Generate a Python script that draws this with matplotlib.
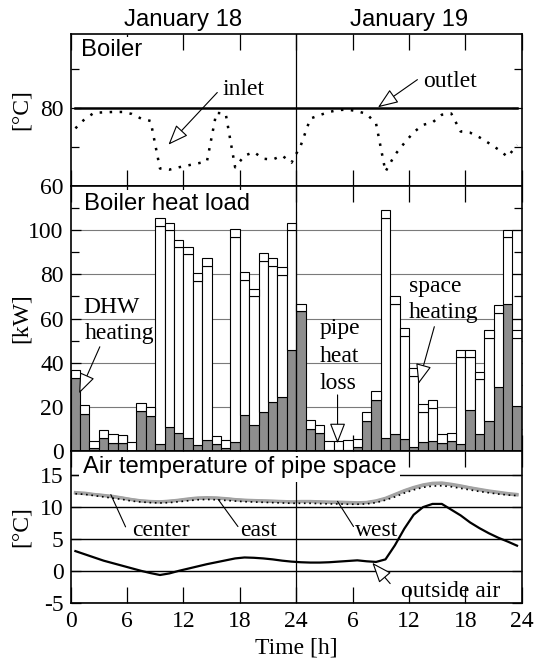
import matplotlib.pyplot as plt
import numpy as np
from matplotlib import transforms

SERIF = 'Liberation Serif'
SANS = 'Liberation Sans'
FS = 17        # serif text (ticks, labels, notes)
FS_SANS = 17.2  # panel titles and dates

# ---- data (hourly, Jan 18 0h .. Jan 19 24h) ----
hours = np.arange(48)
t_mid = hours + 0.5

# boiler temperatures [C]
inlet = [74.8, 77.2, 78.8, 78.9, 79.0, 79.0, 78.5, 77.3, 76.7, 64.5,
         64.2, 64.8, 65.3, 65.8, 66.3, 78.8, 78.5, 64.8, 67.8, 68.7,
         67.0, 66.8, 67.8, 66.0, 70.5, 77.3, 78.2, 79.0, 79.5, 79.6,
         79.2, 78.5, 76.0, 63.7, 68.0, 71.0, 73.8, 75.7, 76.3, 78.3,
         78.6, 74.0, 73.7, 72.5, 71.0, 69.4, 67.5, 70.5]
outlet = [80.0] * 48

# boiler heat load [kW]
dhw = [33.0, 16.8, 1.2, 5.8, 3.7, 3.7, 0.0, 18.0, 16.0, 3.3,
       11.0, 8.0, 6.0, 2.5, 5.0, 3.3, 1.5, 4.0, 16.5, 12.0,
       17.5, 22.0, 24.4, 45.7, 63.4, 10.0, 8.2, 0.5, 0.3, 0.5,
       1.8, 13.8, 23.2, 5.7, 7.5, 5.5, 2.0, 4.0, 4.5, 3.7,
       4.5, 3.0, 18.4, 7.5, 13.5, 29.0, 66.7, 20.5]
space = [0.0, 0.0, 0.0, 0.0, 0.0, 0.0, 0.0, 0.0, 0.0, 98.7,
         89.0, 84.2, 83.2, 74.5, 79.0, 0.0, 0.0, 93.0, 60.9, 58.0,
         68.5, 61.7, 55.1, 54.3, 0.0, 0.0, 0.0, 0.0, 0.0, 0.0,
         0.0, 0.0, 0.0, 100.0, 58.9, 46.5, 32.0, 13.8, 15.0, 0.0,
         0.0, 39.4, 24.0, 25.0, 37.9, 33.5, 30.0, 30.7]
pipe_loss = [3.7, 4.0, 3.3, 3.9, 3.8, 3.6, 4.0, 3.7, 4.0, 3.7,
             3.4, 3.5, 3.3, 3.5, 3.4, 3.7, 3.5, 3.4, 3.6, 3.5,
             3.5, 3.6, 3.7, 3.4, 3.3, 4.0, 3.8, 4.0, 4.2, 4.3,
             3.6, 3.7, 3.8, 3.3, 3.6, 3.5, 3.5, 3.6, 3.7, 3.8,
             3.7, 3.3, 3.3, 3.5, 3.6, 3.5, 3.3, 3.8]

# air temperature of pipe space [C]
east = [12.3, 12.2, 12.0, 11.85, 11.7, 11.45, 11.2, 11.0, 10.9, 10.85,
        10.95, 11.1, 11.3, 11.45, 11.5, 11.45, 11.35, 11.2, 11.1, 11.05,
        11.0, 10.95, 10.9, 10.85, 10.9, 10.9, 10.85, 10.8, 10.8, 10.75,
        10.7, 10.75, 11.0, 11.4, 12.0, 12.6, 13.1, 13.5, 13.75, 13.8,
        13.6, 13.35, 13.05, 12.8, 12.55, 12.35, 12.15, 12.0]
west = [12.2, 12.1, 11.95, 11.8, 11.6, 11.4, 11.15, 10.95, 10.85, 10.8,
        10.9, 11.05, 11.2, 11.35, 11.4, 11.4, 11.3, 11.15, 11.05, 11.0,
        10.95, 10.9, 10.85, 10.8, 10.85, 10.85, 10.8, 10.75, 10.7, 10.65,
        10.6, 10.7, 10.9, 11.3, 11.9, 12.5, 13.0, 13.4, 13.65, 13.7,
        13.5, 13.25, 13.0, 12.7, 12.45, 12.25, 12.05, 11.9]
center = [12.1, 12.0, 11.8, 11.6, 11.4, 11.2, 10.95, 10.8, 10.7, 10.65,
          10.7, 10.85, 11.0, 11.15, 11.2, 11.15, 11.05, 10.95, 10.85, 10.8,
          10.75, 10.7, 10.65, 10.6, 10.6, 10.6, 10.55, 10.5, 10.5, 10.45,
          10.45, 10.5, 10.7, 11.1, 11.6, 12.2, 12.7, 13.1, 13.3, 13.35,
          13.2, 12.95, 12.7, 12.45, 12.25, 12.05, 11.9, 11.8]
outside = [3.1, 2.6, 2.1, 1.6, 1.2, 0.8, 0.4, 0.0, -0.35, -0.65,
           -0.4, 0.0, 0.35, 0.7, 1.05, 1.35, 1.65, 1.95, 2.1, 2.05,
           1.95, 1.8, 1.6, 1.45, 1.35, 1.3, 1.3, 1.35, 1.45, 1.55,
           1.65, 1.5, 1.4, 1.8, 4.0, 6.6, 8.8, 10.0, 10.5, 10.5,
           9.6, 8.7, 7.6, 6.7, 5.9, 5.2, 4.6, 3.95]

xticks = [0, 6, 12, 18, 24, 30, 36, 42, 48]
xticklabels = ['0', '6', '12', '18', '24', '6', '12', '18', '24']
days = ['January 18', 'January 19']
day_centers = [12, 36]

# ---- figure ----
fig = plt.figure(figsize=(5.34, 6.66), dpi=100)
L, R = 0.1324, 0.9770
ax1 = fig.add_axes([L, 0.7207, R - L, 0.9489 - 0.7207])
ax2 = fig.add_axes([L, 0.3228, R - L, 0.7207 - 0.3228])
ax3 = fig.add_axes([L, 0.0950, R - L, 0.3228 - 0.0950])
ax_w = (R - L) * 534
ylab_x = (32 - 70.7) / ax_w   # right edge of the rotated y labels

for ax in (ax1, ax2, ax3):
    ax.set_xlim(0, 48)
    ax.set_xticks(xticks)
    ax.tick_params(axis='x', which='major', direction='in', top=True, bottom=True,
                   length=11.5, width=0.9, pad=6)
    ax.tick_params(axis='y', which='major', direction='in', left=True, right=True,
                   length=7.5, width=0.9, pad=5)
    ax.tick_params(axis='y', which='minor', direction='in', left=True, right=True,
                   length=6, width=0.9)
    for sp in ax.spines.values():
        sp.set_linewidth(1.2)
    ax.axvline(24, color='black', lw=0.9, zorder=4)
    ax.set_axisbelow(True)

ax1.tick_params(labelbottom=False)
ax2.tick_params(labelbottom=False)
ax3.set_xticklabels(xticklabels, fontfamily=SERIF, fontsize=FS)

title_box = dict(facecolor='white', edgecolor='none', pad=1.5)

# ---- top: boiler temperatures ----
ax1.plot(t_mid, outlet, color='black', lw=1.8, zorder=3)
ax1.plot(t_mid, inlet, color='black', lw=1.8, linestyle=(0, (1, 3.0)), zorder=3)
ax1.set_ylim(60, 99)
ax1.set_yticks([60, 80])
ax1.set_yticks([70, 90], minor=True)
ax1.set_yticklabels(['60', '80'], fontfamily=SERIF, fontsize=FS)
ax1.set_ylabel('[°C]', fontfamily=SERIF, fontsize=FS)
ax1.yaxis.set_label_coords(ylab_x, 0.5)
ax1.text(0.023, 0.855, 'Boiler', transform=ax1.transAxes, ha='left', va='baseline',
         fontfamily=SANS, fontsize=FS_SANS, bbox=title_box, zorder=6)
trans = transforms.blended_transform_factory(ax1.transData, ax1.transAxes)
for d, c in zip(days, day_centers):
    ax1.text(c, 1.053, d, transform=trans, ha='center', va='baseline',
             fontfamily=SANS, fontsize=FS_SANS)

arrow_kw = dict(arrowstyle='-|>,head_length=0.9,head_width=0.35', fc='white',
                ec='black', lw=0.8, shrinkA=0, shrinkB=0, mutation_scale=14)
ax1.text(18.4, 83.3, 'inlet', ha='center', va='baseline', fontfamily=SERIF, fontsize=FS)
ax1.annotate('', xy=(10.4, 70.6), xytext=(15.6, 84.0), arrowprops=arrow_kw)
ax1.text(40.4, 85.4, 'outlet', ha='center', va='baseline', fontfamily=SERIF, fontsize=FS)
ax1.annotate('', xy=(32.7, 80.2), xytext=(36.9, 87.3), arrowprops=arrow_kw)

# ---- middle: boiler heat load ----
dhw_a = np.array(dhw)
space_a = np.array(space)
ax2.bar(t_mid, dhw_a, width=1.0, color='#8e8e8e', edgecolor='black', lw=0.8, zorder=2)
ax2.bar(t_mid, space_a, bottom=dhw_a, width=1.0, color='white', edgecolor='black',
        lw=0.8, zorder=2)
ax2.bar(t_mid, pipe_loss, bottom=dhw_a + space_a, width=1.0, color='white',
        edgecolor='black', lw=0.8, zorder=2)
ax2.set_ylim(0, 120)
ax2.set_yticks([0, 20, 40, 60, 80, 100])
ax2.set_yticks([10, 30, 50, 70, 90, 110], minor=True)
ax2.set_yticklabels(['0', '20', '40', '60', '80', '100'], fontfamily=SERIF, fontsize=FS)
ax2.yaxis.grid(True, which='major', color='#7a7a7a', lw=0.8)
ax2.set_ylabel('[kW]', fontfamily=SERIF, fontsize=FS)
ax2.yaxis.set_label_coords(ylab_x, 0.5)
ax2.text(0.030, 0.911, 'Boiler heat load', transform=ax2.transAxes, ha='left',
         va='baseline', fontfamily=SANS, fontsize=FS_SANS, bbox=title_box, zorder=6)

ax2.text(1.3, 62.6, 'DHW', ha='left', va='baseline', fontfamily=SERIF, fontsize=FS)
ax2.text(1.5, 50.6, 'heating', ha='left', va='baseline', fontfamily=SERIF, fontsize=FS)
ax2.annotate('', xy=(0.9, 26.1), xytext=(3.1, 47.2), arrowprops=arrow_kw)
for word, yb in zip(['pipe', 'heat', 'loss'], [53.0, 40.4, 27.9]):
    ax2.text(26.5, yb, word, ha='left', va='baseline', fontfamily=SERIF, fontsize=FS)
ax2.annotate('', xy=(28.4, 3.5), xytext=(28.4, 25.4), arrowprops=arrow_kw)
ax2.text(36.0, 72.2, 'space', ha='left', va='baseline', fontfamily=SERIF, fontsize=FS)
ax2.text(36.0, 60.1, 'heating', ha='left', va='baseline', fontfamily=SERIF, fontsize=FS)
ax2.annotate('', xy=(37.0, 30.3), xytext=(38.7, 56.3), arrowprops=arrow_kw)

# ---- bottom: air temperature of pipe space ----
ax3.plot(t_mid, east, color='#a3a3a3', lw=2.2, zorder=3)
ax3.plot(t_mid, west, color='#a3a3a3', lw=2.2, zorder=3)
ax3.plot(t_mid, center, color='black', lw=1.2, linestyle=(0, (1, 2.2)), zorder=3)
ax3.plot(t_mid, outside, color='black', lw=1.6, zorder=3)
ax3.set_ylim(-5, 18.8)
ax3.set_yticks([-5, 0, 5, 10, 15])
ax3.set_yticklabels(['-5', '0', '5', '10', '15'], fontfamily=SERIF, fontsize=FS)
ax3.yaxis.grid(True, which='major', color='black', lw=1.0)
ax3.set_ylabel('[°C]', fontfamily=SERIF, fontsize=FS)
ax3.yaxis.set_label_coords(ylab_x, 0.5)
ax3.set_xlabel('Time [h]', fontfamily=SERIF, fontsize=FS, labelpad=4)
ax3.text(0.0265, 0.855, 'Air temperature of pipe space', transform=ax3.transAxes,
         ha='left', va='baseline', fontfamily=SANS, fontsize=FS_SANS,
         bbox=dict(facecolor='white', edgecolor='none', pad=2.5), zorder=6)

line_kw = dict(arrowstyle='-', color='black', lw=0.8, shrinkA=0, shrinkB=0)
ax3.text(6.55, 5.5, 'center', ha='left', va='baseline', fontfamily=SERIF, fontsize=FS)
ax3.annotate('', xy=(4.27, 11.96), xytext=(5.84, 6.9), arrowprops=line_kw)
ax3.text(18.0, 5.5, 'east', ha='left', va='baseline', fontfamily=SERIF, fontsize=FS)
ax3.annotate('', xy=(15.7, 11.2), xytext=(17.8, 6.95), arrowprops=line_kw)
ax3.text(30.3, 5.5, 'west', ha='left', va='baseline', fontfamily=SERIF, fontsize=FS)
ax3.annotate('', xy=(28.4, 10.9), xytext=(30.1, 6.95), arrowprops=line_kw)
ax3.text(35.1, -4.1, 'outside air', ha='left', va='baseline', fontfamily=SERIF, fontsize=FS)
ax3.annotate('', xy=(32.1, 1.27), xytext=(34.0, -2.0), arrowprops=arrow_kw)

fig.savefig('out.png', dpi=100)
